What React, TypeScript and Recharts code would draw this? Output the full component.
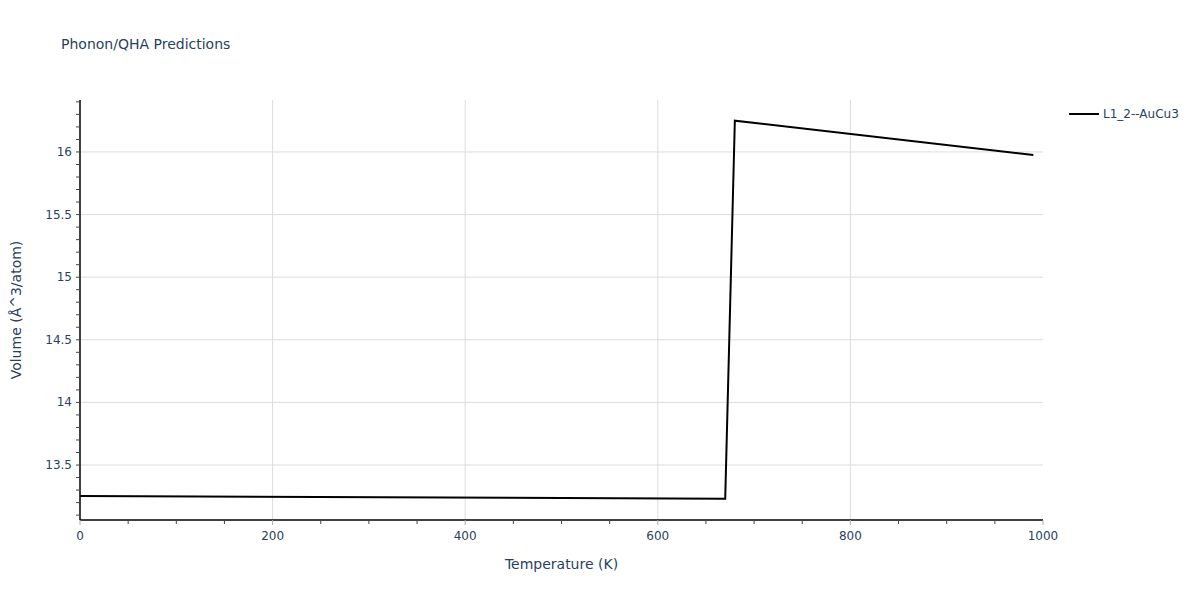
import { LineChart, Line, XAxis, YAxis, CartesianGrid } from 'recharts'

const temperature = [0, 670, 680, 990]
const volume = [13.252, 13.231, 16.25, 15.976]
const seriesName = 'L1_2--AuCu3'

const xTicks = [0, 50, 100, 150, 200, 250, 300, 350, 400, 450, 500, 550, 600, 650, 700, 750, 800, 850, 900, 950, 1000]
const xLabels = [0, 200, 400, 600, 800, 1000]
const xGrid = [200, 400, 600, 800]

const yTicks = [
  13.1, 13.2, 13.3, 13.4, 13.5, 13.6, 13.7, 13.8, 13.9, 14, 14.1, 14.2, 14.3, 14.4, 14.5, 14.6, 14.7,
  14.8, 14.9, 15, 15.1, 15.2, 15.3, 15.4, 15.5, 15.6, 15.7, 15.8, 15.9, 16, 16.1, 16.2, 16.3, 16.4,
]
const yLabels = [13.5, 14, 14.5, 15, 15.5, 16]

const data = temperature.map((t, i) => ({ t, v: volume[i] }))

const FONT = '"DejaVu Sans", verdana, arial, sans-serif'
const INK = '#2a3f5f'

const near = (a: number, list: number[]) => list.some((b) => Math.abs(a - b) < 1e-6)

function YTick(props: any) {
  const { x, y, payload } = props
  const major = near(payload.value, yLabels)
  return (
    <g>
      <line x1={x} x2={x - 4} y1={y} y2={y} stroke="#444" strokeWidth={1} />
      {major && (
        <text x={x - 8} y={y} dy={4} textAnchor="end" fontSize={12} fill={INK} fontFamily={FONT}>
          {payload.value}
        </text>
      )}
    </g>
  )
}

function XTick(props: any) {
  const { x, y, payload } = props
  const major = near(payload.value, xLabels)
  return (
    <g>
      <line x1={x} x2={x} y1={y} y2={y + (major ? 5 : 4)} stroke={major ? '#aaa' : '#444'} strokeWidth={1} />
      {major && (
        <text x={x} y={y + 20} textAnchor="middle" fontSize={12} fill={INK} fontFamily={FONT}>
          {payload.value}
        </text>
      )}
    </g>
  )
}

export default function App() {
  return (
    <div style={{ position: 'absolute', left: 0, top: 0, width: 1200, height: 600, background: '#fff', fontFamily: FONT }}>
      <div style={{ position: 'absolute', left: 61, top: 36, fontSize: 14, color: INK }}>
        Phonon/QHA Predictions
      </div>
      <svg style={{ position: 'absolute', left: 1068, top: 105 }} width={132} height={20}>
        <line x1={1} x2={31} y1={9} y2={9} stroke="#000" strokeWidth={2} />
        <text x={35} y={13} fontSize={12} fill={INK} fontFamily={FONT}>{seriesName}</text>
      </svg>
      <LineChart width={1200} height={600} data={data} margin={{ top: 100, right: 157, left: 0, bottom: 0 }}>
        <CartesianGrid stroke="#dcdcdc" strokeWidth={1} horizontalValues={yLabels} verticalValues={xGrid} />
        <XAxis
          dataKey="t"
          type="number"
          domain={[0, 1000]}
          ticks={xTicks}
          interval={0}
          height={80}
          tickSize={0}
          tickMargin={0}
          tickLine={false}
          axisLine={{ stroke: '#000', strokeWidth: 1.5 }}
          tick={<XTick />}
          label={{ value: 'Temperature (K)', position: 'insideBottom', offset: 31, fill: INK, fontSize: 14, fontFamily: FONT }}
        />
        <YAxis
          dataKey="v"
          type="number"
          domain={[13.061, 16.415]}
          allowDataOverflow
          ticks={yTicks}
          interval={0}
          width={80}
          tickSize={0}
          tickMargin={0}
          tickLine={false}
          axisLine={{ stroke: '#000', strokeWidth: 1.5 }}
          tick={<YTick />}
          label={{
            content: (p: any) => {
              const vb = p.viewBox
              const cy = vb.y + vb.height / 2
              return (
                <text x={21} y={cy} transform={`rotate(-90 21 ${cy})`} textAnchor="middle" fontSize={14} fill={INK} fontFamily={FONT}>
                  Volume (Å^3/atom)
                </text>
              )
            },
          }}
        />
        <Line
          dataKey="v"
          name={seriesName}
          stroke="#000"
          strokeWidth={2}
          dot={false}
          activeDot={false}
          isAnimationActive={false}
        />
      </LineChart>
    </div>
  )
}
